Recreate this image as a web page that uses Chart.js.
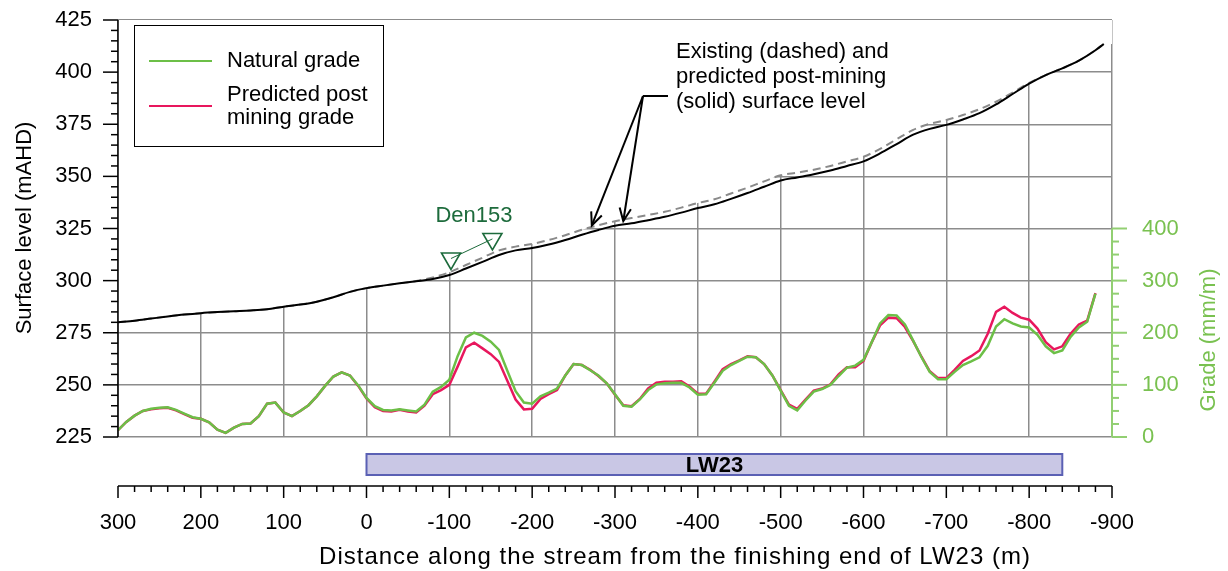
<!DOCTYPE html>
<html lang="en">
<head>
<meta charset="UTF-8">
<title>Surface level and grade along the stream - LW23</title>
<script src="https://cdn.jsdelivr.net/npm/chart.js"></script>
<style>
  body { margin: 0; padding: 0; background: #fff; }
  .chart-wrapper { width: 1228px; height: 571px; }
</style>
</head>
<body>
<div class="chart-wrapper"><canvas id="profileChart"></canvas></div>
<script>
// Grade profile, every 10 m along the stream (m from the finishing end of LW23)
const gradeDist = [
  300, 290, 280, 270, 260, 250, 240, 230, 220, 210, 200, 190, 180, 170, 160, 150, 140, 130, 120, 110,
  100, 90, 80, 70, 60, 50, 40, 30, 20, 10, 0, -10, -20, -30, -40, -50, -60, -70, -80, -90,
  -100, -110, -120, -130, -140, -150, -160, -170, -180, -190, -200, -210, -220, -230, -240, -250, -260, -270, -280, -290,
  -300, -310, -320, -330, -340, -350, -360, -370, -380, -390, -400, -410, -420, -430, -440, -450, -460, -470, -480, -490,
  -500, -510, -520, -530, -540, -550, -560, -570, -580, -590, -600, -610, -620, -630, -640, -650, -660, -670, -680, -690,
  -700, -710, -720, -730, -740, -750, -760, -770, -780, -790, -800, -810, -820, -830, -840, -850, -860, -870, -880
];
// Natural grade (mm/m)
const naturalGrade = [
  13, 29, 41, 50, 54, 56, 57, 52, 45, 38, 35, 28, 14, 8, 18, 25, 26, 40, 64, 66,
  47, 40, 50, 61, 78, 98, 116, 124, 118, 99, 75, 59, 52, 51, 53, 51, 49, 62, 87, 96,
  110, 155, 191, 200, 194, 183, 167, 127, 88, 66, 64, 78, 85, 93, 118, 140, 138, 128, 118, 103,
  82, 60, 58, 72, 90, 101, 103, 104, 104, 95, 81, 82, 104, 127, 138, 146, 154, 153, 140, 118,
  89, 60, 51, 70, 87, 92, 100, 117, 133, 137, 148, 182, 218, 234, 233, 216, 185, 153, 125, 111,
  111, 125, 138, 145, 153, 175, 212, 226, 218, 212, 210, 196, 174, 161, 166, 192, 210, 221, 275
];
// Predicted post mining grade (mm/m)
const predictedGrade = [
  13, 29, 41, 50, 53, 55, 56, 51, 44, 37, 35, 28, 14, 8, 18, 25, 26, 40, 64, 66,
  47, 40, 50, 61, 78, 98, 116, 124, 118, 98, 74, 57, 50, 49, 52, 49, 47, 60, 82, 90,
  100, 135, 172, 181, 170, 159, 144, 108, 72, 53, 54, 73, 82, 90, 118, 140, 138, 129, 117, 103,
  81, 61, 59, 73, 93, 104, 106, 106, 107, 97, 83, 83, 106, 130, 140, 147, 155, 153, 140, 118,
  90, 62, 54, 72, 89, 93, 101, 120, 134, 134, 146, 182, 214, 229, 228, 211, 184, 154, 126, 113,
  113, 129, 146, 155, 166, 198, 240, 250, 238, 229, 225, 208, 182, 168, 174, 198, 216, 223, 276
];

// Surface level profile, every 20 m (mAHD)
const surfaceDist = [
  300, 280, 260, 240, 220, 200, 180, 160, 140, 120, 100, 80, 60, 40, 20, 0, -20, -40, -60, -80,
  -100, -120, -140, -160, -180, -200, -220, -240, -260, -280, -300, -320, -340, -360, -380, -400, -420, -440, -460, -480,
  -500, -520, -540, -560, -580, -600, -620, -640, -660, -680, -700, -720, -740, -760, -780, -800, -820, -840, -860, -880, -890
];
const existingSurface = [
  280.0, 280.8, 281.8, 282.8, 283.7, 284.4, 284.9, 285.3, 285.7, 286.3, 287.5, 288.5, 289.9, 292.0, 294.6, 296.4, 297.6, 298.7, 299.8, 301.5,
  304.0, 307.5, 311.0, 314.5, 316.3, 317.6, 319.5, 321.8, 324.4, 326.6, 328.5, 330.0, 331.5, 333.0, 335.0, 337.2, 339.0, 341.8, 344.6, 347.6,
  350.5, 351.8, 353.2, 355.0, 357.2, 359.4, 363.2, 367.8, 372.3, 375.2, 377.0, 379.4, 382.2, 385.8, 390.2, 394.8, 398.6, 401.8, 405.5, 410.5, 413.5
];
const postMiningSurface = [
  280.0, 280.8, 281.8, 282.8, 283.7, 284.4, 284.9, 285.3, 285.7, 286.3, 287.5, 288.5, 289.9, 292.0, 294.6, 296.4, 297.6, 298.7, 299.7, 300.8,
  302.7, 305.8, 309.0, 312.3, 314.5, 315.6, 317.3, 319.5, 322.0, 324.3, 326.3, 327.5, 329.0, 330.6, 332.6, 334.8, 336.6, 339.2, 342.0, 345.0,
  348.0, 349.5, 351.0, 352.8, 355.0, 357.2, 361.0, 365.5, 370.0, 372.8, 374.7, 377.3, 380.3, 384.5, 389.5, 394.5, 398.6, 401.8, 405.5, 410.5, 413.5
];

// Den153 survey marks
const denDist = [-102, -152];
const denLevel = [310.6, 320.0];

// Longwall panel extent
const panelName = 'LW23';
const panelStart = 0;
const panelEnd = -840;

// Axis ticks
const levelTicks = [225, 250, 275, 300, 325, 350, 375, 400, 425];
const gradeTicks = [0, 100, 200, 300, 400];
const distTicks = [300, 200, 100, 0, -100, -200, -300, -400, -500, -600, -700, -800, -900];

const FONT = '"Liberation Sans", Arial, sans-serif';
const GREEN = '#6cbf47';
const PINK = '#e8175d';
const AXIS_GREEN = '#79c150';
const DEN_GREEN = '#1d6b3c';

const pts = (xs, ys) => xs.map((d, i) => ({ x: d, y: ys[i] }));

// white area above the existing surface, carried to the right edge
const maskDist = surfaceDist.concat([-900]);
const maskLevel = existingSurface.concat([existingSurface[existingSurface.length - 1]]);

function line(ctx, x0, y0, x1, y1) {
  ctx.beginPath();
  ctx.moveTo(x0, y0);
  ctx.lineTo(x1, y1);
  ctx.stroke();
}

function arrow(ctx, x0, y0, x1, y1) {
  line(ctx, x0, y0, x1, y1);
  const ang = Math.atan2(y1 - y0, x1 - x0);
  const len = 14, spread = 0.42;
  ctx.beginPath();
  ctx.moveTo(x1 - len * Math.cos(ang - spread), y1 - len * Math.sin(ang - spread));
  ctx.lineTo(x1, y1);
  ctx.lineTo(x1 - len * Math.cos(ang + spread), y1 - len * Math.sin(ang + spread));
  ctx.stroke();
}

const decor = {
  id: 'decor',
  afterDraw(chart) {
    const { ctx, chartArea: a } = chart;
    const { x, y, y2 } = chart.scales;
    ctx.save();
    ctx.lineCap = 'butt';

    // left axis (surface level)
    ctx.strokeStyle = '#000';
    ctx.lineWidth = 1.5;
    line(ctx, a.left, a.top, a.left, a.bottom);
    for (let v = 225; v <= 425; v += 5) {
      const py = y.getPixelForValue(v);
      line(ctx, a.left - (v % 25 === 0 ? 15 : 7), py, a.left, py);
    }
    ctx.fillStyle = '#000';
    ctx.font = '22px ' + FONT;
    ctx.textAlign = 'right';
    ctx.textBaseline = 'middle';
    levelTicks.forEach(v => ctx.fillText(String(v), a.left - 26, y.getPixelForValue(v)));

    ctx.save();
    ctx.translate(25, 228);
    ctx.rotate(-Math.PI / 2);
    ctx.textAlign = 'center';
    ctx.fillText('Surface level (mAHD)', 0, 0);
    ctx.restore();

    // right axis (grade)
    ctx.strokeStyle = '#92cf72';
    ctx.lineWidth = 2;
    line(ctx, a.right, y2.getPixelForValue(0), a.right, y2.getPixelForValue(400));
    for (let g = 0; g <= 400; g += 25) {
      const py = y2.getPixelForValue(g);
      line(ctx, a.right, py, a.right + (g % 100 === 0 ? 15 : 7), py);
    }
    ctx.fillStyle = AXIS_GREEN;
    ctx.textAlign = 'left';
    gradeTicks.forEach(g => ctx.fillText(String(g), a.right + 30, y2.getPixelForValue(g)));
    ctx.save();
    ctx.translate(1209, 340);
    ctx.rotate(-Math.PI / 2);
    ctx.textAlign = 'center';
    ctx.fillText('Grade (mm/m)', 0, 0);
    ctx.restore();

    // longwall panel
    const px0 = x.getPixelForValue(panelStart);
    const px1 = x.getPixelForValue(panelEnd);
    const pTop = a.bottom + 17, pH = 21;
    ctx.fillStyle = '#c9c7e5';
    ctx.fillRect(px0, pTop, px1 - px0, pH);
    ctx.strokeStyle = '#5a60b4';
    ctx.lineWidth = 2;
    ctx.strokeRect(px0, pTop, px1 - px0, pH);
    ctx.fillStyle = '#000';
    ctx.font = 'bold 22px ' + FONT;
    ctx.textAlign = 'center';
    ctx.fillText(panelName, (px0 + px1) / 2, pTop + pH / 2 + 1);

    // distance axis
    const axY = a.bottom + 49;
    ctx.strokeStyle = '#000';
    ctx.lineWidth = 1.5;
    line(ctx, a.left, axY, a.right, axY);
    for (let d = 300; d >= -900; d -= 20) {
      const px = x.getPixelForValue(d);
      line(ctx, px, axY, px, axY + (d % 100 === 0 ? 12 : 6));
    }
    ctx.font = '22px ' + FONT;
    distTicks.forEach(d => ctx.fillText(String(d), x.getPixelForValue(d), axY + 37));
    ctx.save();
    ctx.font = '24px ' + FONT;
    ctx.letterSpacing = '1px';
    ctx.fillText('Distance along the stream from the finishing end of LW23 (m)', 675, axY + 71);
    ctx.restore();

    // legend
    ctx.fillStyle = '#fff';
    ctx.fillRect(134.5, 25.5, 249, 121);
    ctx.strokeStyle = '#000';
    ctx.lineWidth = 1;
    ctx.strokeRect(134.5, 25.5, 249, 121);
    ctx.lineWidth = 2;
    ctx.strokeStyle = GREEN;
    line(ctx, 149, 61, 212, 61);
    ctx.strokeStyle = PINK;
    line(ctx, 149, 106, 212, 106);
    ctx.fillStyle = '#000';
    ctx.textAlign = 'left';
    ctx.font = '22px ' + FONT;
    ctx.fillText('Natural grade', 227, 61);
    ctx.fillText('Predicted post', 227, 95);
    ctx.fillText('mining grade', 227, 118);

    // surface level note with leaders
    ctx.fillText('Existing (dashed) and', 676, 52);
    ctx.fillText('predicted post-mining', 676, 77);
    ctx.fillText('(solid) surface level', 676, 102);
    ctx.strokeStyle = '#000';
    ctx.lineWidth = 2;
    line(ctx, 668, 96, 643, 96);
    arrow(ctx, 643, 96, x.getPixelForValue(-272), y.getPixelForValue(326.5));
    arrow(ctx, 643, 96, x.getPixelForValue(-310), y.getPixelForValue(328.6));

    // Den153 label
    ctx.fillStyle = DEN_GREEN;
    ctx.textAlign = 'center';
    ctx.fillText('Den153', 474, 216);

    ctx.restore();
  }
};

new Chart(document.getElementById('profileChart'), {
  type: 'line',
  data: {
    datasets: [
      {
        label: 'Den153',
        data: pts(denDist, denLevel),
        yAxisID: 'y',
        borderColor: DEN_GREEN,
        borderWidth: 1,
        pointStyle: 'triangle',
        rotation: 180,
        pointRadius: 11,
        pointBorderWidth: 1.6,
        pointBackgroundColor: 'rgba(255,255,255,0)',
        pointBorderColor: DEN_GREEN,
        order: 1
      },
      {
        label: 'Predicted post-mining surface',
        data: pts(surfaceDist, postMiningSurface),
        yAxisID: 'y',
        borderColor: '#000',
        borderWidth: 2,
        pointRadius: 0,
        cubicInterpolationMode: 'monotone',
        order: 2
      },
      {
        label: 'Existing surface',
        data: pts(surfaceDist, existingSurface),
        yAxisID: 'y',
        borderColor: '#8a8a8a',
        borderWidth: 2,
        borderDash: [8, 5],
        pointRadius: 0,
        cubicInterpolationMode: 'monotone',
        order: 3
      },
      {
        label: 'Natural grade',
        data: pts(gradeDist, naturalGrade),
        yAxisID: 'y2',
        borderColor: GREEN,
        borderWidth: 2.5,
        pointRadius: 0,
        tension: 0,
        order: 4
      },
      {
        label: 'Predicted post mining grade',
        data: pts(gradeDist, predictedGrade),
        yAxisID: 'y2',
        borderColor: PINK,
        borderWidth: 2.5,
        pointRadius: 0,
        tension: 0,
        order: 5
      },
      {
        label: 'mask',
        data: pts(maskDist, maskLevel),
        yAxisID: 'y',
        borderWidth: 0,
        borderColor: 'rgba(0,0,0,0)',
        backgroundColor: '#ffffff',
        fill: 'end',
        pointRadius: 0,
        cubicInterpolationMode: 'monotone',
        order: 10
      }
    ]
  },
  options: {
    responsive: true,
    maintainAspectRatio: false,
    animation: false,
    events: [],
    layout: { padding: { left: 118, top: 20, right: 116, bottom: 134 } },
    scales: {
      x: {
        type: 'linear',
        min: -900,
        max: 300,
        reverse: true,
        ticks: { display: false, stepSize: 100 },
        grid: { color: '#8c8c8c', lineWidth: 1.5, drawTicks: false },
        border: { display: false }
      },
      y: {
        type: 'linear',
        min: 225,
        max: 425,
        ticks: { display: false, stepSize: 25 },
        grid: { color: '#8c8c8c', lineWidth: 1.5, drawTicks: false },
        border: { display: false }
      },
      y2: {
        type: 'linear',
        position: 'right',
        min: 0,
        max: 800,
        display: false
      }
    },
    plugins: {
      legend: { display: false },
      tooltip: { enabled: false },
      filler: { propagate: false }
    }
  },
  plugins: [decor]
});
</script>
</body>
</html>
